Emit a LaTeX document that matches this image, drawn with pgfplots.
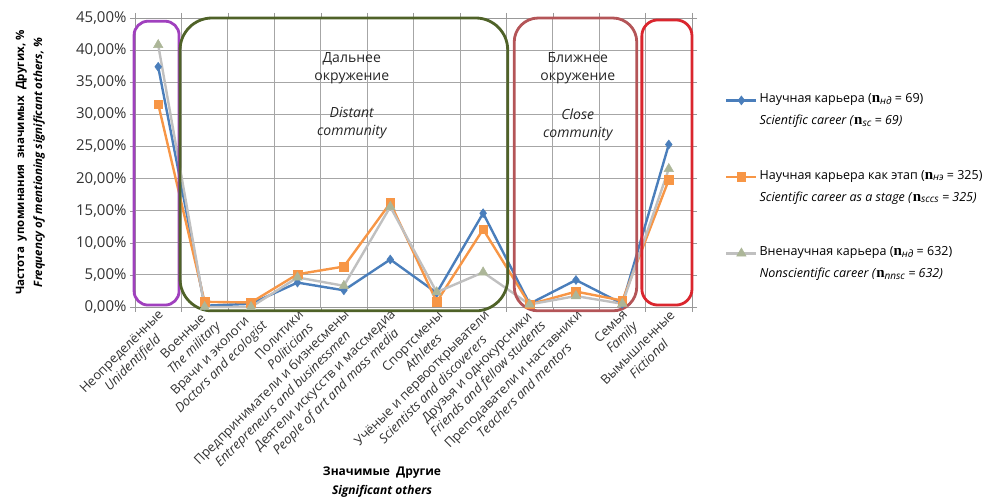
\documentclass[border=0pt]{standalone}
\usepackage{pgfplots}
\pgfplotsset{compat=1.18}
\usepackage{fontspec}
\setmainfont{Open Sans}
\newfontfamily\nfont{Liberation Serif}
\definecolor{cblue}{RGB}{74,126,187}
\definecolor{corange}{RGB}{247,150,70}
\definecolor{cgray}{RGB}{192,192,192}
\definecolor{cgrayfill}{RGB}{172,182,152}
\definecolor{cpurple}{RGB}{160,64,190}
\definecolor{cgreen}{RGB}{79,98,40}
\definecolor{crose}{RGB}{180,85,88}
\definecolor{cred}{RGB}{218,38,46}
\definecolor{cgrid}{RGB}{166,166,166}
\definecolor{ctext}{RGB}{50,50,50}
\newcommand{\nn}{{\nfont\bfseries\fontsize{15}{15}\selectfont n}}
\newcommand{\sub}[1]{\raisebox{-1.5pt}{\fontsize{10}{10}\selectfont\itshape #1}}
\newcommand{\lent}[2]{\fontsize{12.5}{22}\selectfont\begin{tabular}{@{}l@{}}#1\\#2\end{tabular}}
\pgfplotstableread{
idx blue orange gray
0 37.4 31.6 40.8
1 0.2 0.8 0.0
2 0.5 0.7 0.0
3 3.8 5.1 4.6
4 2.6 6.3 3.3
5 7.4 16.2 15.6
6 2.2 0.8 2.3
7 14.6 12.1 5.4
8 0.5 0.4 0.4
9 4.2 2.4 1.7
10 0.5 1.0 0.5
11 25.3 19.8 21.5
}\datatable
\begin{document}
\begin{tikzpicture}
\path (-135pt,-192pt) rectangle (854pt,307pt);
\begin{axis}[
  scale only axis, width=557pt, height=289pt,
  xmin=-0.5, xmax=11.5, ymin=0, ymax=45,
  clip=false,
  axis line style={draw=gray!80},
  xtick={0,...,11},
  major x tick style={draw=none},
  minor xtick={-0.5,0.5,...,11.5},
  minor tick style={draw=gray!80},
  minor tick length=5pt,
  xminorgrids=true, ymajorgrids=true,
  grid style={draw=cgrid, line width=0.8pt},
  minor grid style={draw=cgrid, line width=0.8pt},
  ytick={0,5,...,45},
  major tick length=5pt,
  tick align=outside,
  ytick style={draw=gray!80},
  yticklabels={{0,00\%},{5,00\%},{10,00\%},{15,00\%},{20,00\%},{25,00\%},{30,00\%},{35,00\%},{40,00\%},{45,00\%}},
  yticklabel style={font=\fontsize{15}{15}\selectfont, text=ctext},
  xticklabels={
    {Неопределённые\\\textit{Unidentifield}},
    {Военные\\\textit{The military}},
    {Врачи и экологи\\\textit{Doctors and ecologist}},
    {Политики\\\textit{Politicians}},
    {Предприниматели и бизнесмены\\\textit{Entrepreneurs and businessmen}},
    {Деятели искусств и массмедиа\\\textit{People of art and mass media}},
    {Спортсмены\\\textit{Athletes}},
    {Учёные и первооткрыватели\\\textit{Scientists and discoverers}},
    {Друзья и однокурсники\\\textit{Friends and fellow students}},
    {Преподаватели и наставники\\\textit{Teachers and mentors}},
    {Семья\\\textit{Family}},
    {Вымышленные\\\textit{Fictional}}},
  xticklabel style={rotate=45, anchor=east, align=center, font=\fontsize{13}{16}\selectfont, text=ctext, inner sep=1pt, yshift=-11pt, xshift=3pt},
  xlabel={\textbf{Значимые\ \ Другие}\\\textbf{\textit{Significant others}}},
  xlabel style={at={(axis description cs:0.4435,-0.54)}, anchor=north, align=center, font=\fontsize{12}{19}\selectfont},
  ylabel={\textbf{Частота\ \ упоминания\ \ значимых\ \ Других, \%}\\\textbf{\textit{Frequency of mentioning significant others, \%}}},
  ylabel style={at={(axis description cs:-0.188,0.5)}, anchor=center, align=center, font=\fontsize{11.5}{18}\selectfont},
  legend image code/.code={\draw[mark repeat=2,mark phase=2] plot coordinates {(0pt,0pt)(15pt,0pt)(30pt,0pt)};},
  legend style={at={(1,1)}, anchor=north west, xshift=33pt, yshift=-67pt, draw=none, fill=none,
    row sep=46pt, inner sep=0pt, nodes={inner sep=2pt}},
  legend cell align=left,
]
\addplot[color=cblue, line width=2.4pt, mark=diamond*, mark size=4.5pt, mark options={fill=cblue, line width=0.5pt}] table[x=idx,y=blue]{\datatable};
\addlegendentry{\lent{Научная карьера (\nn\sub{нд} = 69)}{\textit{Scientific career (}\nn\sub{sc}\textit{ = 69)}}}
\addplot[color=corange, line width=2.4pt, mark=square*, mark size=4.3pt, mark options={fill=corange, line width=0.5pt}] table[x=idx,y=orange]{\datatable};
\addlegendentry{\lent{Научная карьера как этап (\nn\sub{нэ} = 325)}{\textit{Scientific career as a stage (}\nn\sub{sccs}\textit{ = 325)}}}
\addplot[color=cgray, line width=2.4pt, mark=triangle*, mark size=5.5pt, mark options={fill=cgrayfill, draw=cgrayfill, line width=0.5pt}] table[x=idx,y=gray]{\datatable};
\addlegendentry{\lent{Вненаучная карьера (\nn\sub{нд} = 632)}{\textit{Nonscientific career (}\nn\sub{nnsc}\textit{ = 632)}}}
% boxes
\draw[cpurple, line width=2.8pt, rounded corners=14pt] (axis cs:-0.52,0.3) rectangle (axis cs:0.45,44.5);
\draw[cgreen, line width=2.8pt, rounded corners=32pt] (axis cs:0.47,-0.6) rectangle (axis cs:7.53,45.0);
\draw[crose, line width=2.8pt, rounded corners=24pt] (axis cs:7.67,-0.6) rectangle (axis cs:10.31,45.0);
\draw[cred, line width=2.8pt, rounded corners=16pt] (axis cs:10.42,0.3) rectangle (axis cs:11.5,44.7);
\node[align=center, font=\fontsize{14}{18}\selectfont, text=black!85] at (axis cs:4.17,37.2) {Дальнее\\окружение};
\node[align=center, font=\fontsize{14}{18}\selectfont\itshape, text=black!85] at (axis cs:4.17,28.7) {Distant\\community};
\node[align=center, font=\fontsize{14}{18}\selectfont, text=black!85] at (axis cs:9.04,37.2) {Ближнее\\окружение};
\node[align=center, font=\fontsize{14}{18}\selectfont\itshape, text=black!85] at (axis cs:9.04,28.4) {Close\\community};
\end{axis}
\end{tikzpicture}
\end{document}
